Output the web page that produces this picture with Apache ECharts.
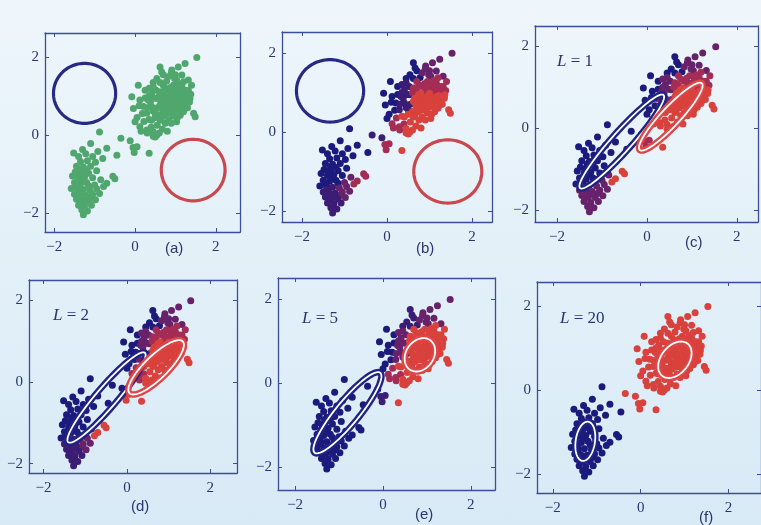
<!DOCTYPE html>
<html><head><meta charset="utf-8">
<script src="https://cdn.jsdelivr.net/npm/echarts@6/dist/echarts.min.js"></script>
<style>html,body{margin:0;padding:0;background:linear-gradient(#eef6fb,#d8eaf6);} #c{width:761px;height:525px;}</style>
</head><body><div id="c"></div><script>
// ---- data points (standardised eruption duration, waiting time) ----
const lowerTop = [[-0.88,0.08],[-1.10,-0.22],[-1.30,-0.37],[-1.52,-0.46],[-1.22,-0.48],[-0.92,-0.42],[-0.70,-0.34],[-0.45,-0.52],[-1.05,-0.55],[-1.40,-0.55],[-0.80,-0.60]];
const lowerMid = [[-1.35,-0.68],[-1.18,-0.66],[-0.98,-0.70],[-1.45,-0.80],[-1.28,-0.82],[-1.10,-0.80],[-1.48,-0.95],[-1.32,-0.95],[-1.15,-0.98],[-0.95,-0.92],[-1.55,-1.05],[-1.40,-1.10],[-1.25,-1.08],[-1.05,-1.10],[-1.38,-1.00],[-1.20,-0.90],[-1.33,-0.88],[-1.50,-1.22],[-1.35,-1.25],[-1.20,-1.22],[-1.30,-1.15],[-1.58,-1.37],[-1.42,-1.38],[-1.46,-1.30],[-1.15,-1.30]];
const lowerRight = [[-0.85,-1.15],[-1.00,-1.28],[-1.12,-1.42],[-0.95,-1.38],[-1.05,-1.52],[-0.88,-1.50],[-0.98,-1.66],[-1.10,-1.60]];
const lowerBottom = [[-1.50,-1.52],[-1.35,-1.55],[-1.22,-1.55],[-1.42,-1.45],[-1.28,-1.40],[-1.45,-1.65],[-1.30,-1.68],[-1.15,-1.70],[-1.25,-1.60],[-1.38,-1.72],[-1.40,-1.80],[-1.25,-1.82],[-1.08,-1.80],[-1.32,-1.92],[-1.18,-1.95],[-1.28,-2.05]];
const lowerTail = [[-0.55,-1.06],[-0.50,-1.12],[-0.70,-1.24],[-0.78,-1.32]];
const bridgeA = [[-0.35,-0.08],[-0.12,-0.15]];
const bridgeB = [[-0.05,-0.32],[0.05,-0.30],[-0.02,-0.45]];
const bridgeC = [[0.35,-0.47]];
const upLeft = [[0.08,1.28],[-0.08,0.98],[-0.04,0.68],[0.12,0.90],[0.21,0.73],[0.10,0.75],[0.25,0.95],[0.25,1.15],[0.00,0.34],[0.05,0.45],[0.18,0.55]];
const upLeftLow = [[0.12,0.21],[0.15,0.10],[0.22,0.35],[0.30,0.05],[0.40,0.20],[0.29,0.13]];
const upTopLeft = [[0.62,1.75],[0.66,1.62],[0.54,1.45],[0.70,1.55],[0.45,1.35],[0.62,1.35],[0.78,1.38]];
const upTopRight = [[1.53,1.99],[1.24,1.84],[1.07,1.75],[0.91,1.67],[1.16,1.54],[1.32,1.41],[0.83,1.50],[1.03,1.41],[0.90,1.60],[1.00,1.55],[0.98,1.45]];
const upMidLeft = [[0.45,1.24],[0.33,0.90],[0.41,1.07],[0.41,0.73],[0.29,0.56],[0.38,0.85],[0.48,0.95],[0.52,1.15],[0.35,1.00],[0.35,1.20],[0.45,0.62],[0.30,0.70],[0.54,0.94],[0.55,0.70],[0.50,0.56]];
const upCoreHigh = [[0.70,1.28],[0.95,1.28],[1.16,1.24],[1.32,1.15],[0.62,1.11],[0.83,1.15],[1.03,1.07],[1.24,1.03],[0.60,1.00],[0.70,1.05],[0.90,1.02],[0.75,1.20],[0.88,1.22],[1.05,1.20],[1.12,1.12],[0.95,1.10],[1.10,1.30],[1.25,1.15],[1.38,1.05],[1.20,1.37],[1.40,1.28],[1.10,1.00]];
const upCoreMid = [[1.36,0.94],[0.74,0.94],[0.95,0.90],[1.16,0.90],[1.28,0.81],[0.62,0.77],[0.83,0.73],[1.03,0.73],[1.24,0.68],[0.70,0.60],[0.91,0.56],[1.12,0.51],[0.80,0.98],[1.00,0.98],[0.65,0.85],[0.75,0.82],[0.85,0.85],[0.95,0.80],[1.05,0.85],[1.15,0.78],[0.68,0.68],[0.78,0.65],[0.88,0.68],[0.98,0.62],[1.08,0.65],[1.20,0.60],[1.30,0.70],[1.35,0.85],[1.22,0.92]];
const upLow = [[0.45,0.09],[0.54,0.00],[0.62,0.38],[0.83,0.38],[1.03,0.34],[1.45,0.56],[1.49,0.47],[0.41,0.38],[0.60,0.52],[0.72,0.50],[0.82,0.55],[0.95,0.48],[1.05,0.45],[0.50,0.45],[0.65,0.40],[0.75,0.30],[0.90,0.30],[0.35,0.40],[0.55,0.25],[0.68,0.15],[0.80,0.10],[0.60,0.05],[0.50,-0.05],[0.45,-0.03]];

const groups = [lowerTop, lowerMid, lowerRight, lowerBottom, lowerTail, bridgeA, bridgeB, bridgeC,
  upLeft, upLeftLow, upTopLeft, upTopRight, upMidLeft, upCoreHigh, upCoreMid, upLow];

// responsibility class per group (0 = blue ... 4 = red), panels (b)-(f)
const classB = [0,0,2,1,3, 1,3,4, 0,3,0,2,1,3,4,4];
const classC = [0,0,2,2,4, 0,3,4, 0,4,0,2,2,3,4,4];
const classD = [0,0,2,1,4, 0,4,4, 0,3,0,2,2,3,4,4];
const classE = [0,0,0,0,0, 0,1,4, 0,3,1,2,2,4,4,4];
const classF = [0,0,0,0,0, 4,4,4, 4,4,4,4,4,4,4,4];

// Gaussian contours: [cx, cy, a, b, angleDeg, colourIndex 0=blue 1=red]
const ellA = [[-1.25,1.07,0.77,0.77,0,0],[1.44,-0.90,0.79,0.79,0,1]];
const ellB = [[-1.34,1.04,0.79,0.79,0,0],[1.43,-1.00,0.80,0.80,0,1]];
const ellC = [[-0.56,-0.33,1.47,0.23,51,0],[0.53,0.28,1.07,0.22,50,1]];
const ellD = [[-0.49,-0.38,1.43,0.25,50,0],[0.70,0.36,0.90,0.28,45,1]];
const ellE = [[-0.81,-0.71,1.21,0.27,52,0],[0.84,0.67,0.42,0.32,60,1]];
const ellF = [[-1.26,-1.22,0.47,0.22,82,0],[0.78,0.72,0.48,0.32,55,1]];

const tickValues = [-2, 0, 2];
const panelLabels = ['(a)','(b)','(c)','(d)','(e)','(f)'];
const iterLabels = [null, null, '1', '2', '5', '20'];

// ---- layout ----
const layout = [
  {g:[45,33,195,199],  x:[-2.23,2.60], y:[-2.49,2.62], lab:[176,250], it:null},
  {g:[282,32,210,190], x:[-2.47,2.47], y:[-2.28,2.53], lab:[427,250], it:null},
  {g:[535,26,223,196], x:[-2.49,2.47], y:[-2.30,2.50], lab:[696,244], it:[557,63]},
  {g:[29,280,208,193], x:[-2.35,2.64], y:[-2.23,2.50], lab:[142,508], it:[53,317]},
  {g:[278,278,217,212],x:[-2.39,2.55], y:[-2.55,2.50], lab:[426,516], it:[302,320]},
  {g:[537,282,240,211],x:[-2.36,2.74], y:[-2.45,2.57], lab:[710,519], it:[560,320]}
];
const classes = [null, classB, classC, classD, classE, classF];
const ells = [ellA, ellB, ellC, ellD, ellE, ellF];

const pal = ['#1c1b7d','#3b1d75','#67226b','#a42c55','#d8413c'];
const green = '#4fa76d';
const axisCol = '#3c4d9c';
const txtCol = '#2a3572';
const fmt = v => v < 0 ? '\u2212' + Math.abs(v) : String(v);

const grid = [], xAxis = [], yAxis = [], series = [], graphic = [];
layout.forEach((p, i) => {
  grid.push({left:p.g[0], top:p.g[1], width:p.g[2], height:p.g[3], show:false});
  const common = {type:'value', gridIndex:i, splitLine:{show:false},
    axisLine:{show:true, onZero:false, lineStyle:{color:axisCol, width:1.3}},
    axisTick:{show:true, inside:true, length:4, customValues:tickValues, lineStyle:{color:axisCol}}};
  xAxis.push(Object.assign({}, common, {position:'bottom', min:p.x[0], max:p.x[1],
    axisLabel:{customValues:tickValues, formatter:fmt, margin:8, color:txtCol, fontFamily:'Liberation Serif', fontSize:15}}));
  xAxis.push(Object.assign({}, common, {position:'top', min:p.x[0], max:p.x[1], axisLabel:{show:false}}));
  yAxis.push(Object.assign({}, common, {position:'left', min:p.y[0], max:p.y[1],
    axisLabel:{customValues:tickValues, formatter:fmt, margin:6, color:txtCol, fontFamily:'Liberation Serif', fontSize:15}}));
  yAxis.push(Object.assign({}, common, {position:'right', min:p.y[0], max:p.y[1], axisLabel:{show:false}}));

  const data = [];
  groups.forEach((g, gi) => {
    const col = i === 0 ? green : pal[classes[i][gi]];
    g.forEach(pt => data.push({value:pt, itemStyle:{color:col}}));
  });
  series.push({type:'scatter', xAxisIndex:2*i, yAxisIndex:2*i, symbolSize:7, itemStyle:{opacity:1},
    data:data, silent:true, z:2});

  const circle = i < 2;
  series.push({type:'custom', xAxisIndex:2*i, yAxisIndex:2*i, data:ells[i], z:5, silent:true,
    encode:{x:0, y:1},
    renderItem:(params, api) => {
      const cx = api.value(0), cy = api.value(1), a = api.value(2), b = api.value(3);
      const ang = api.value(4) * Math.PI / 180, ci = api.value(5);
      const pts = [];
      for (let k = 0; k < 120; k++) {
        const t = k / 120 * 2 * Math.PI;
        const ex = cx + a*Math.cos(t)*Math.cos(ang) - b*Math.sin(t)*Math.sin(ang);
        const ey = cy + a*Math.cos(t)*Math.sin(ang) + b*Math.sin(t)*Math.cos(ang);
        pts.push(api.coord([ex, ey]));
      }
      if (circle) {
        return {type:'polygon', shape:{points:pts}, style:{fill:'none', stroke: ci === 0 ? '#262a84' : '#c9474d', lineWidth:3.2}};
      }
      const col = ci === 0 ? '#1f2382' : '#dc4646';
      return {type:'group', children:[
        {type:'polygon', shape:{points:pts}, style:{fill:'none', stroke:col, lineWidth:6.5}},
        {type:'polygon', shape:{points:pts}, style:{fill:'none', stroke:'#ffffff', lineWidth:1.8}}
      ]};
    }});

  graphic.push({type:'text', left:p.lab[0]-11, top:p.lab[1]-9,
    style:{text:panelLabels[i], fill:txtCol, font:'15px "Liberation Sans"'}});
  if (iterLabels[i]) {
    graphic.push({type:'text', left:p.it[0], top:p.it[1]-10,
      style:{text:'{i|L} = ' + iterLabels[i], fill:txtCol, font:'17px "Liberation Serif"',
        rich:{i:{fontStyle:'italic', fontFamily:'Liberation Serif', fontSize:17, fill:txtCol}}}});
  }
});

const chart = echarts.init(document.getElementById('c'), null, {renderer:'canvas'});
chart.setOption({backgroundColor:'transparent', animation:false, grid, xAxis, yAxis, series, graphic});
</script></body></html>
